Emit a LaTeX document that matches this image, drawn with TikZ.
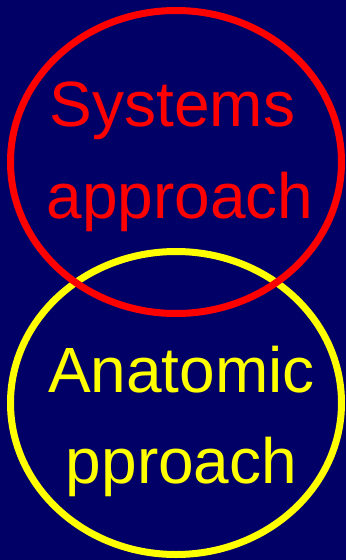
\documentclass[tikz,border=0pt]{standalone}
\usepackage{fontspec}
\setmainfont{Liberation Sans}
\definecolor{navybg}{HTML}{000066}
\definecolor{sysred}{HTML}{FF0000}
\definecolor{anayellow}{HTML}{FFFF00}
\tikzset{
  every picture/.style={line cap=round, line join=round},
  ring/.style={line width=7pt},
  sysring/.style={ring, draw=sysred},
  anaring/.style={ring, draw=anayellow},
  bigword/.style={font=\fontsize{64}{64}\selectfont, anchor=base, inner sep=0pt},
  syslabel/.style={bigword, text=sysred},
  analabel/.style={bigword, text=anayellow}
}

\begin{document}
\begin{tikzpicture}[x=1pt, y=-1pt]
  % background and frame
  \fill[navybg] (0,0) rectangle (346,560);
  \useasboundingbox (0,0) rectangle (346,560);

  % rings, red lies on top
  \draw[anaring] (176,403) ellipse [x radius=165.5pt, y radius=151.5pt];
  \draw[sysring] (176,162) ellipse [x radius=165.5pt, y radius=151.5pt];

  \node[syslabel] (sysA) at (172.5,126) {Systems};
  \node[syslabel] (sysB) at (180,218) {approach};
  \node[analabel] (anaA) at (181.5,392) {Anatomic};
  \node[analabel] (anaB) at (181.5,483) {pproach};
\end{tikzpicture}
\end{document}
